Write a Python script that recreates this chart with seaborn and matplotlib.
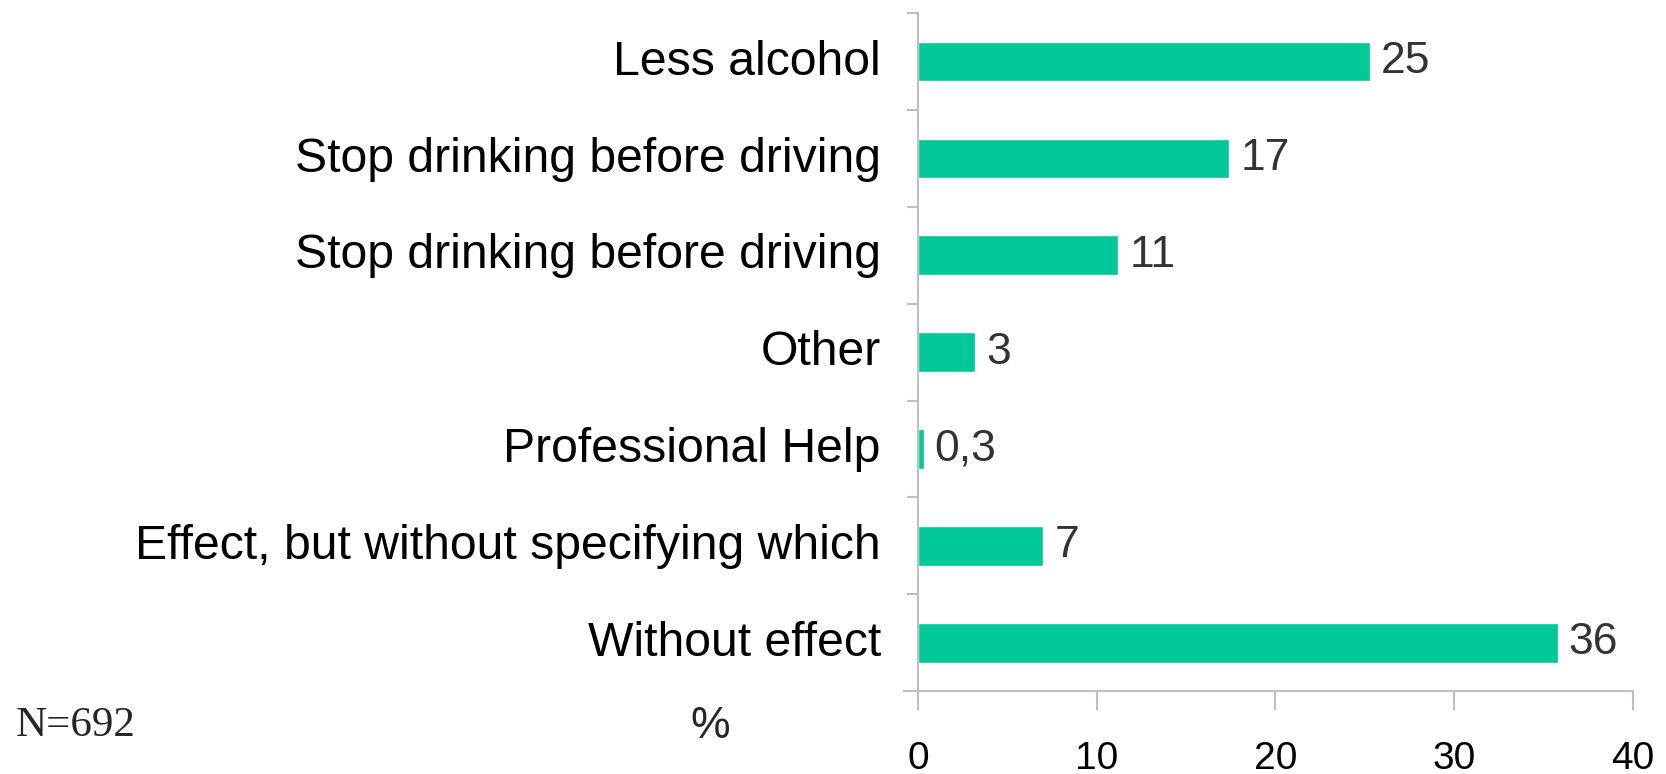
import matplotlib
matplotlib.use("Agg")
import matplotlib.pyplot as plt
import seaborn as sns
import pandas as pd

categories = ["Less alcohol", "Stop drinking before driving", "Stop drinking before driving",
              "Other", "Professional Help", "Effect, but without specifying which", "Without effect"]
values = [25.3, 17.4, 11.2, 3.2, 0.3, 7.0, 35.8]
value_labels = ["25", "17", "11", "3", "0,3", "7", "36"]
x_ticks = [0, 10, 20, 30, 40]
note_n = "N=692"
unit = "%"

sns.set_theme(style="white")
plt.rcParams['font.family'] = ['Liberation Sans', 'DejaVu Sans']

df = pd.DataFrame({"pos": [str(i) for i in range(len(categories))], "value": values})

fig = plt.figure(figsize=(16.66, 7.74), dpi=100)
ax = fig.add_axes([0.5426, 0.107, 0.4374, 0.876])
sns.barplot(data=df, x="value", y="pos", orient="h", color="#00C896", width=0.41,
            saturation=1, ax=ax)

ax.set_xlim(-0.8, 40)
ax.set_ylim(6.5, -0.5)
# label anchors nudged slightly above bar centres (major ticks are invisible)
ax.set_yticks([i - 0.045 for i in range(len(categories))], labels=categories)
ax.set_yticks([i - 0.5 for i in range(len(categories) + 1)], minor=True)
ax.tick_params(axis="y", which="major", length=0, pad=27, labelsize=34.7, labelcolor="black")
ax.tick_params(axis="y", which="minor", length=8, width=1.5, color="#BFBFBF", left=True)
ax.set_xticks(x_ticks, labels=[str(t) for t in x_ticks])
ax.tick_params(axis="x", which="major", length=14, width=1.5, color="#BFBFBF", bottom=True,
               direction="out", pad=22, labelsize=28, labelcolor="black")
ax.set_xlabel("")
ax.set_ylabel("")

for s in ["top", "right"]:
    ax.spines[s].set_visible(False)
ax.spines["left"].set_position(("data", 0))
for s in ["left", "bottom"]:
    ax.spines[s].set_color("#BFBFBF")
    ax.spines[s].set_linewidth(1.5)

ax.bar_label(ax.containers[0], labels=value_labels, padding=8, fontsize=32, color="#333333")

fig.text(0.0096, 0.062, note_n, fontsize=31, family="Liberation Serif", va="center", ha="left")
fig.text(0.426, 0.062, unit, fontsize=32, va="center", ha="center")

fig.savefig("out.png", dpi=100)
